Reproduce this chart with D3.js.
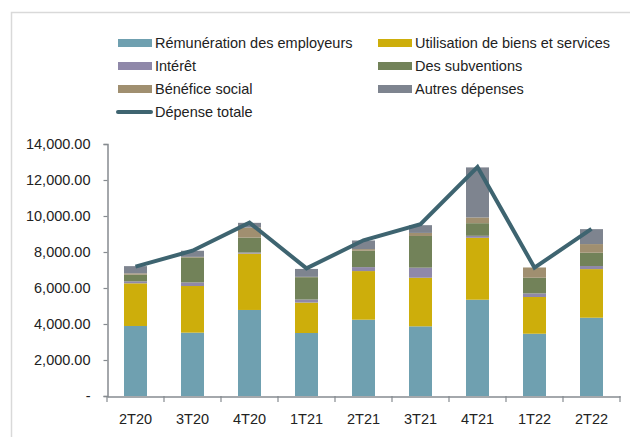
<!DOCTYPE html>
<html><head><meta charset="utf-8">
<script src="https://cdn.jsdelivr.net/npm/d3@7"></script>
<style>body{margin:0;background:#fff}svg{display:block}text{font-family:"Liberation Sans",sans-serif;fill:#222}</style>
</head><body><svg id="c" width="630" height="437"></svg>
<script>
const categories = ["2T20","3T20","4T20","1T21","2T21","3T21","4T21","1T22","2T22"];
const remuneration = [3890,3520,4780,3500,4240,3870,5350,3460,4350];
const utilisation = [2370,2590,3130,1690,2700,2700,3440,2040,2700];
const interet = [110,200,60,170,220,560,110,200,170];
const subventions = [370,1390,830,1240,910,1760,700,870,740];
const benefice = [75,30,560,20,90,170,320,570,480];
const autres = [400,340,260,440,480,430,2780,0,830];
const total = [7190,8070,9630,7090,8650,9540,12720,7130,9280];
const yTicks = [0,2000,4000,6000,8000,10000,12000,14000];

const seriesNames = ["Rémunération des employeurs","Utilisation de biens et services","Intérêt","Des subventions","Bénéfice social","Autres dépenses"];
const seriesVals = [remuneration,utilisation,interet,subventions,benefice,autres];
const colors = ["#6fa0b0","#cdae0b","#8f88a9","#728259","#a08f70","#7e848f"];
const lineColor = "#3e6470";

const svg = d3.select("#c");
// frame
svg.append("rect").attr("x",11.5).attr("y",12.5).attr("width",640).attr("height",440)
  .attr("fill","none").attr("stroke","#d9d9d9").attr("stroke-width",1.5);

const xb = d3.scaleBand().domain(categories).range([107,620]);
const y = d3.scaleLinear().domain([0,14000]).range([396,144]);

const rows = categories.map((c,i)=>{const o={cat:c};seriesNames.forEach((n,k)=>o[n]=seriesVals[k][i]);return o;});
const stacked = d3.stack().keys(seriesNames)(rows);
stacked.forEach((s,k)=>{
  svg.append("g").selectAll("rect").data(s).join("rect")
    .attr("x",d=>xb(d.data.cat)+xb.bandwidth()/2-11.5)
    .attr("width",23)
    .attr("y",d=>y(d[1]))
    .attr("height",d=>Math.max(0,y(d[0])-y(d[1])))
    .attr("fill",colors[k]);
});

// axes
const ya = svg.append("g").attr("transform","translate(107.5,0)")
  .call(d3.axisLeft(y).tickValues(yTicks).tickSize(4).tickPadding(13)
    .tickFormat(d=>d===0?"-":d3.format(",.2f")(d)));
ya.select(".domain").attr("stroke","#868b90").attr("stroke-width",1.5);
ya.selectAll(".tick line").attr("stroke","#868b90").attr("stroke-width",1.2);
ya.selectAll("text").style("font-size","14.5px").attr("fill","#222");

const xa = svg.append("g").attr("transform","translate(0,396.5)")
  .call(d3.axisBottom(xb).tickSize(0).tickPadding(17));
xa.select(".domain").attr("stroke","#868b90").attr("stroke-width",1.5);
xa.selectAll("text").style("font-size","14.5px").attr("fill","#222");
// category boundary ticks
svg.append("g").selectAll("line").data(d3.range(categories.length+1)).join("line")
  .attr("x1",i=>107+i*xb.step()).attr("x2",i=>107+i*xb.step())
  .attr("y1",396).attr("y2",402).attr("stroke","#868b90").attr("stroke-width",1.2);

// total line
const line = d3.line().x((d,i)=>xb(categories[i])+xb.bandwidth()/2).y(d=>y(d));
svg.append("path").datum(total).attr("d",line).attr("fill","none")
  .attr("stroke",lineColor).attr("stroke-width",4).attr("stroke-linejoin","miter");

// legend
const leg = [
  {n:seriesNames[0],c:colors[0],x:118,y:43},
  {n:seriesNames[1],c:colors[1],x:378,y:43},
  {n:seriesNames[2],c:colors[2],x:118,y:66},
  {n:seriesNames[3],c:colors[3],x:378,y:66},
  {n:seriesNames[4],c:colors[4],x:118,y:89},
  {n:seriesNames[5],c:colors[5],x:378,y:89},
];
leg.forEach(l=>{
  svg.append("rect").attr("x",l.x).attr("y",l.y-4).attr("width",34).attr("height",8).attr("fill",l.c);
  svg.append("text").attr("x",l.x+37).attr("y",l.y).attr("dy","0.35em").style("font-size","14.5px").text(l.n);
});
svg.append("line").attr("x1",118).attr("x2",151).attr("y1",112).attr("y2",112)
  .attr("stroke",lineColor).attr("stroke-width",4).attr("stroke-linecap","round");
svg.append("text").attr("x",155).attr("y",112).attr("dy","0.35em").style("font-size","14.5px").text("Dépense totale");
</script></body></html>
